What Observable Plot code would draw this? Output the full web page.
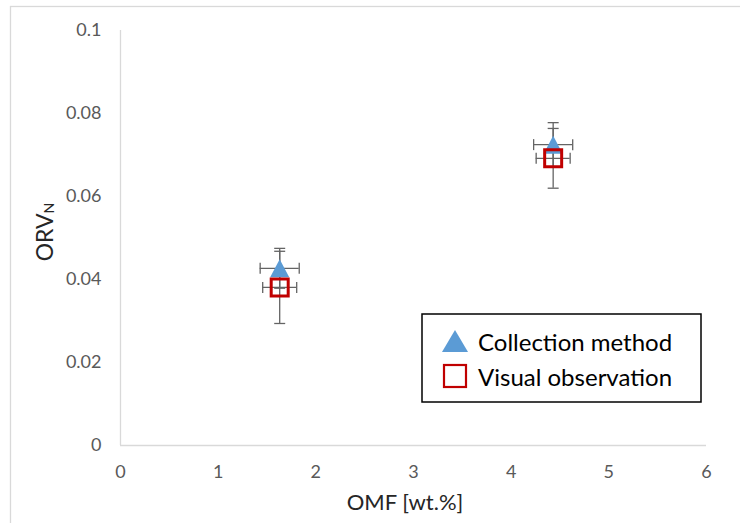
<!DOCTYPE html>
<html><head><meta charset="utf-8">
<script src="https://cdn.jsdelivr.net/npm/d3@7"></script>
<script src="https://cdn.jsdelivr.net/npm/@observablehq/plot@0.6"></script>
<style>body{margin:0;background:#fff}</style>
</head><body><div id="chart"></div>
<script>
// ---- data ----
const omf = [1.63, 4.43];
const omfErrCollection = [0.2, 0.2];
const orvCollection = [0.0427, 0.0725];
const orvErrCollection = [0.0048, 0.0053];
const omfErrVisual = [0.174, 0.174];
const orvVisual = [0.0381, 0.0692];
const orvErrVisual = [0.0087, 0.0072];
const seriesNames = ["Collection method", "Visual observation"];
const xTicks = [0, 1, 2, 3, 4, 5, 6];
const xTickLabels = ["0", "1", "2", "3", "4", "5", "6"];
const yTicks = [0, 0.02, 0.04, 0.06, 0.08, 0.1];
const yTickLabels = ["0", "0.02", "0.04", "0.06", "0.08", "0.1"];
const xTitle = "OMF [wt.%]";
const yTitleMain = "ORV";
const yTitleSub = "N";

const collection = omf.map((x, i) => ({x, ex: omfErrCollection[i], y: orvCollection[i], ey: orvErrCollection[i]}));
const visual = omf.map((x, i) => ({x, ex: omfErrVisual[i], y: orvVisual[i], ey: orvErrVisual[i]}));

// symbols (size = r*r*PI in Plot)
const rPx = px => px / Math.sqrt(Math.PI);
const triangle = {draw(ctx, size) {const s = Math.sqrt(size); ctx.moveTo(0, -s / 2); ctx.lineTo(s * 0.53, s / 2); ctx.lineTo(-s * 0.53, s / 2); ctx.closePath();}};
const square = {draw(ctx, size) {const s = Math.sqrt(size) / 2; ctx.rect(-s, -s, 2 * s, 2 * s);}};
const capH = {draw(ctx, size) {const s = Math.sqrt(size) / 2; ctx.moveTo(-s, 0); ctx.lineTo(s, 0);}};
const capV = {draw(ctx, size) {const s = Math.sqrt(size) / 2; ctx.moveTo(0, -s); ctx.lineTo(0, s);}};

const errColor = "#646464";
function errorBars(data) {
  const o = {stroke: errColor, strokeWidth: 1.3};
  return [
    Plot.ruleX(data, {x: "x", y1: d => d.y - d.ey, y2: d => d.y + d.ey, ...o}),
    Plot.ruleY(data, {y: "y", x1: d => d.x - d.ex, x2: d => d.x + d.ex, ...o}),
    Plot.dot(data, {x: "x", y: d => d.y + d.ey, symbol: capH, r: rPx(11), ...o}),
    Plot.dot(data, {x: "x", y: d => d.y - d.ey, symbol: capH, r: rPx(11), ...o}),
    Plot.dot(data, {x: d => d.x + d.ex, y: "y", symbol: capV, r: rPx(11), ...o}),
    Plot.dot(data, {x: d => d.x - d.ex, y: "y", symbol: capV, r: rPx(11), ...o})
  ];
}
const labelOf = (ticks, labels) => d => labels[ticks.findIndex(t => Math.abs(t - d) < 1e-9)];

const W = 740, H = 523;
const plot = Plot.plot({
  width: W, height: H,
  marginLeft: 120, marginRight: 34, marginTop: 30, marginBottom: 78,
  style: {fontFamily: "Lato, 'Open Sans', sans-serif", fontSize: "18px", color: "#595959", background: "#fff", overflow: "visible"},
  x: {domain: [0, 6]},
  y: {domain: [0, 0.1]},
  marks: [
    Plot.axisX({ticks: xTicks, tickSize: 0, tickPadding: 20, label: null, fontSize: 18, tickFormat: labelOf(xTicks, xTickLabels)}),
    Plot.axisY({ticks: yTicks, tickSize: 0, tickPadding: 19, label: null, fontSize: 18, tickFormat: labelOf(yTicks, yTickLabels)}),
    Plot.ruleX([0], {stroke: "#d9d9d9", strokeWidth: 1.3}),
    Plot.ruleY([0], {stroke: "#d9d9d9", strokeWidth: 1.3}),
    ...errorBars(collection),
    ...errorBars(visual),
    Plot.dot(collection, {x: "x", y: "y", symbol: triangle, r: rPx(18), fill: "#5b9bd5", stroke: "none"}),
    Plot.dot(visual, {x: "x", y: "y", symbol: square, r: rPx(17), fill: "none", stroke: "#c00000", strokeWidth: 3})
  ]
});

const svg = d3.select(plot);
// outer frame
svg.insert("rect", ":first-child").attr("x", 10.5).attr("y", 6.5).attr("width", 760).attr("height", 540)
  .attr("fill", "none").attr("stroke", "#d9d9d9").attr("stroke-width", 1.3);

// axis titles
svg.append("text").attr("x", 405).attr("y", 510).attr("text-anchor", "middle")
  .attr("font-size", 22).attr("fill", "#262626").text(xTitle);
const yt = svg.append("text").attr("transform", "translate(53,232) rotate(-90)").attr("text-anchor", "middle")
  .attr("font-size", 23).attr("fill", "#262626");
yt.append("tspan").text(yTitleMain);
yt.append("tspan").attr("font-size", 14).attr("dy", 1).text(yTitleSub);

// legend
const lg = svg.append("g").attr("text-anchor", "start");
lg.append("rect").attr("x", 422).attr("y", 314).attr("width", 279).attr("height", 88)
  .attr("fill", "#fff").attr("stroke", "#000").attr("stroke-width", 1.5);
lg.append("path").attr("d", "M455,330L468,352L442,352Z").attr("fill", "#5b9bd5");
lg.append("rect").attr("x", 444).attr("y", 365).attr("width", 22).attr("height", 22)
  .attr("fill", "none").attr("stroke", "#c00000").attr("stroke-width", 2.2);
lg.append("text").attr("x", 478).attr("y", 351).attr("font-size", 24).attr("fill", "#000").text(seriesNames[0]);
lg.append("text").attr("x", 478).attr("y", 386).attr("font-size", 24).attr("fill", "#000").text(seriesNames[1]);

document.getElementById("chart").appendChild(plot);
</script></body></html>
